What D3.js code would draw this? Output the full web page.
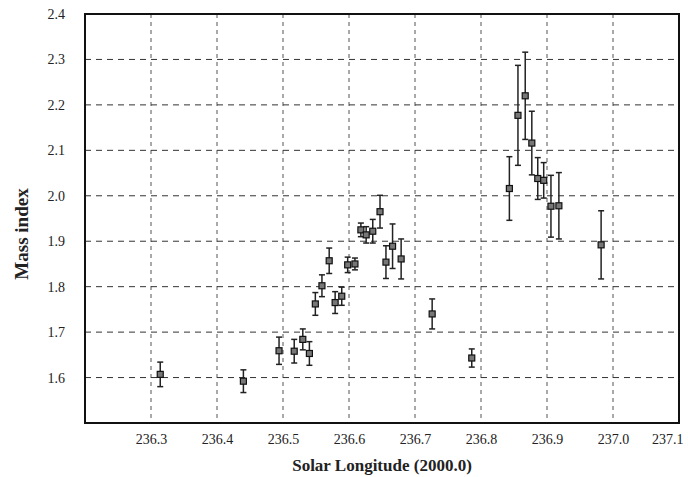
<!DOCTYPE html>
<html>
<head>
<meta charset="utf-8">
<title>Mass index</title>
<script src="https://cdn.jsdelivr.net/npm/d3@7"></script>
<style>
  body { margin: 0; background: #fff; }
  text { font-family: 'Liberation Serif', 'DejaVu Serif', serif; fill: #222; }
</style>
</head>
<body>
<svg id="chart" width="688" height="477"></svg>
<script>
// solar longitude (2000.0) of each point
var lon = [236.314, 236.440, 236.494, 236.517, 236.530, 236.540, 236.549, 236.559,
           236.570, 236.579, 236.589, 236.598, 236.609, 236.618, 236.626, 236.636,
           236.647, 236.656, 236.666, 236.679, 236.726, 236.786, 236.843, 236.856,
           236.867, 236.877, 236.886, 236.895, 236.906, 236.918, 236.982];
// mass index
var mass = [1.607, 1.592, 1.659, 1.658, 1.684, 1.653, 1.762, 1.802,
            1.857, 1.765, 1.779, 1.848, 1.850, 1.925, 1.914, 1.922,
            1.965, 1.854, 1.889, 1.861, 1.740, 1.643, 2.016, 2.177,
            2.220, 2.116, 2.038, 2.034, 1.977, 1.978, 1.892];
// error (+/-)
var err = [0.027, 0.025, 0.030, 0.026, 0.023, 0.026, 0.025, 0.024,
           0.028, 0.024, 0.020, 0.017, 0.013, 0.015, 0.018, 0.026,
           0.036, 0.036, 0.049, 0.044, 0.033, 0.020, 0.070, 0.110,
           0.096, 0.070, 0.046, 0.039, 0.068, 0.073, 0.075];

var xTicks = [236.3, 236.4, 236.5, 236.6, 236.7, 236.8, 236.9, 237.0, 237.1];
var yTicks = [1.6, 1.7, 1.8, 1.9, 2.0, 2.1, 2.2, 2.3, 2.4];

var svg = d3.select("#chart");
var mLeft = 85, mRight = 679, mTop = 14, mBottom = 423;
var serif = "'Liberation Serif', 'DejaVu Serif', serif";

var x = d3.scaleLinear().domain([236.2, 237.1]).range([mLeft, mRight]);
var y = d3.scaleLinear().domain([1.5, 2.4]).range([mBottom, mTop]);

// grid
svg.append("g").selectAll("line")
  .data(xTicks.filter(function(d) { return d < 237.05; }))
  .enter().append("line")
  .attr("x1", function(d) { return x(d); })
  .attr("x2", function(d) { return x(d); })
  .attr("y1", mTop).attr("y2", mBottom)
  .attr("stroke", "#555").attr("stroke-width", 1)
  .attr("stroke-dasharray", "4,4");

svg.append("g").selectAll("line")
  .data(yTicks.filter(function(d) { return d < 2.35; }))
  .enter().append("line")
  .attr("x1", mLeft).attr("x2", mRight)
  .attr("y1", function(d) { return y(d); })
  .attr("y2", function(d) { return y(d); })
  .attr("stroke", "#333").attr("stroke-width", 1)
  .attr("stroke-dasharray", "6,5");

// axes (labels only, no tick marks)
var xAxis = svg.append("g")
  .attr("transform", "translate(0," + mBottom + ")")
  .call(d3.axisBottom(x).tickValues(xTicks).tickFormat(d3.format(".1f")).tickSize(0).tickPadding(11))
  .attr("font-family", serif).attr("font-size", 14);
xAxis.select(".domain").remove();
// last label pulled in so it stays on the page
xAxis.selectAll(".tick").filter(function(d) { return d > 237.05; })
  .select("text").attr("text-anchor", "end").attr("dx", 4);

var yAxis = svg.append("g")
  .attr("transform", "translate(" + mLeft + ",0)")
  .call(d3.axisLeft(y).tickValues(yTicks).tickFormat(d3.format(".1f")).tickSize(0).tickPadding(20))
  .attr("font-family", serif).attr("font-size", 14);
yAxis.select(".domain").remove();

// frame
svg.append("rect")
  .attr("x", mLeft).attr("y", mTop)
  .attr("width", mRight - mLeft).attr("height", mBottom - mTop)
  .attr("fill", "none").attr("stroke", "#111").attr("stroke-width", 2);

// error bars
var pts = lon.map(function(d, i) { return { x: d, y: mass[i], e: err[i] }; });
var bars = svg.append("g").selectAll("g").data(pts).enter().append("g")
  .attr("stroke", "#222").attr("stroke-width", 1.5);
bars.append("line")
  .attr("x1", function(d) { return x(d.x); })
  .attr("x2", function(d) { return x(d.x); })
  .attr("y1", function(d) { return y(d.y + d.e); })
  .attr("y2", function(d) { return y(d.y - d.e); });
bars.append("line")
  .attr("x1", function(d) { return x(d.x) - 3; })
  .attr("x2", function(d) { return x(d.x) + 3; })
  .attr("y1", function(d) { return y(d.y + d.e); })
  .attr("y2", function(d) { return y(d.y + d.e); });
bars.append("line")
  .attr("x1", function(d) { return x(d.x) - 3; })
  .attr("x2", function(d) { return x(d.x) + 3; })
  .attr("y1", function(d) { return y(d.y - d.e); })
  .attr("y2", function(d) { return y(d.y - d.e); });

// markers
svg.append("g").selectAll("rect").data(pts).enter().append("rect")
  .attr("x", function(d) { return x(d.x) - 3; })
  .attr("y", function(d) { return y(d.y) - 3; })
  .attr("width", 6).attr("height", 6)
  .attr("fill", "#777").attr("stroke", "#111").attr("stroke-width", 1.2);

// axis titles
svg.append("text")
  .attr("x", 382).attr("y", 471)
  .attr("text-anchor", "middle")
  .attr("font-size", 17).attr("font-weight", "bold")
  .text("Solar Longitude (2000.0)");

svg.append("text")
  .attr("transform", "translate(28,234) rotate(-90)")
  .attr("text-anchor", "middle")
  .attr("font-size", 19).attr("font-weight", "bold")
  .text("Mass index");
</script>
</body>
</html>
